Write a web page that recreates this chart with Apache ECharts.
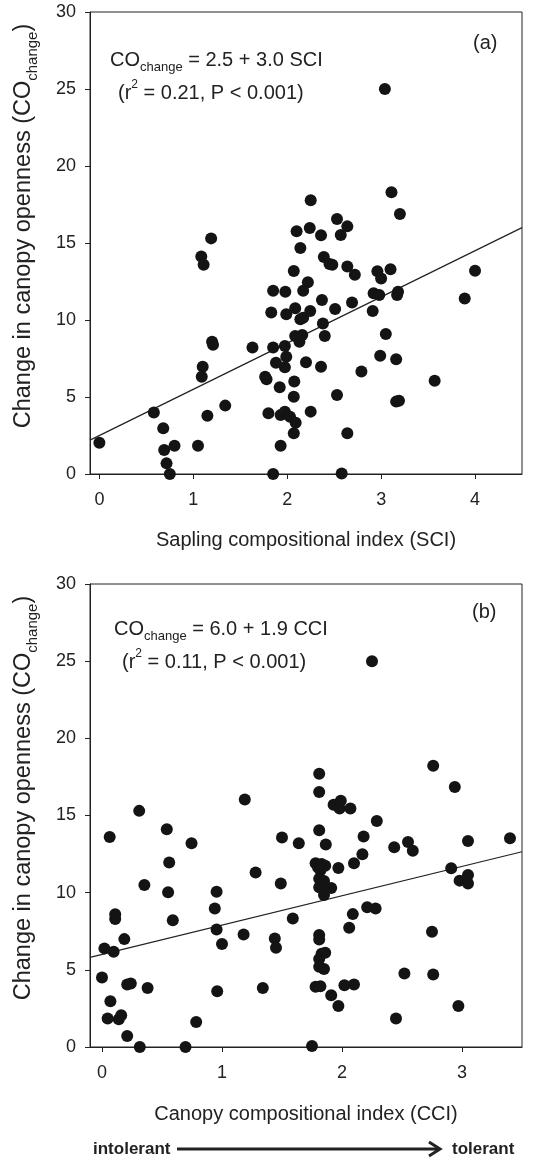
<!DOCTYPE html>
<html>
<head>
<meta charset="utf-8">
<script src="https://cdn.jsdelivr.net/npm/echarts@6/dist/echarts.min.js"></script>
<style>html,body{margin:0;padding:0;background:#fff}#c{width:560px;height:1159px}</style>
</head>
<body>
<div id="c"></div>
<script>
// Panel (a): Sapling compositional index vs change in canopy openness
const sciX = [0,0.58,0.68,0.69,0.80,0.715,0.75,1.05,1.09,1.10,1.15,1.34,1.20,1.21,1.085,1.11,1.19,1.63,1.765,1.78,
  1.85,1.83,1.85,1.88,1.92,1.80,1.93,1.975,2.03,2.09,1.93,1.85,2.07,2.07,2.075,1.975,1.99,1.975,1.99,1.98,
  2.085,2.14,2.17,2.245,2.085,2.16,2.13,2.20,2.25,2.07,2.10,2.14,2.22,2.17,2.24,2.25,2.36,2.37,2.38,2.40,
  2.36,2.39,2.45,2.48,2.51,2.53,2.53,2.57,2.58,2.64,2.64,2.72,2.69,2.64,2.79,2.91,2.92,2.98,2.96,3.0,
  3.10,2.99,3.05,3.04,3.11,3.20,3.16,3.18,3.17,3.16,3.19,3.57,3.89,4.0];
const coA = [2.03,4.0,2.97,1.56,1.84,0.69,0,1.84,6.32,6.97,3.79,4.44,8.59,8.4,14.13,13.59,15.30,8.22,6.32,6.15,
  11.9,10.48,8.22,7.23,5.63,3.94,3.83,4.05,3.72,3.33,1.84,0,2.64,5.02,6.0,6.93,7.62,8.31,10.37,11.84,
  10.76,10.05,10.15,10.58,8.96,9.03,8.59,7.25,4.05,13.18,15.76,14.68,12.45,11.9,15.97,17.77,15.50,11.3,9.78,8.96,
  6.97,14.09,13.64,13.59,10.71,5.13,16.56,15.52,0.04,16.08,13.48,12.94,11.13,2.64,6.65,10.58,11.73,11.62,13.16,12.7,
  13.3,7.68,9.09,25.0,18.29,16.88,7.45,11.84,11.62,4.7,4.76,6.06,11.4,13.2];
const fitA = [[-0.1, 2.2], [4.5, 16.0]];

// Panel (b): Canopy compositional index vs change in canopy openness
const cciX = [2.25,2.76,2.94,1.81,1.81,1.19,1.93,1.99,1.98,2.07,0.31,2.29,0.54,0.064,0.746,1.50,1.64,1.81,1.865,2.18,
  2.435,2.55,2.59,3.05,3.40,2.17,2.10,0.56,1.28,1.78,1.80,1.83,1.86,1.82,1.97,2.91,2.98,3.05,3.05,0.353,
  0.551,0.955,1.49,1.81,1.85,1.81,1.86,1.91,1.85,0.94,2.21,2.28,0.11,0.11,0.59,1.59,2.09,2.06,0.955,1.18,
  2.75,1.81,1.81,0.186,1.44,1.45,1.0,0.02,0.097,1.83,1.86,1.81,1.81,1.85,0.0,2.52,2.76,0.21,0.24,0.38,
  0.96,1.34,1.78,1.82,2.02,2.10,1.91,1.97,2.97,0.07,0.047,0.14,0.16,0.785,2.45,0.21,0.315,0.696,1.75];
const coB = [25.0,18.23,16.84,17.71,16.52,16.04,15.7,15.95,15.45,15.45,15.3,14.65,14.11,13.6,13.2,13.57,13.2,14.05,13.12,13.64,
  12.95,13.28,12.72,13.35,13.53,12.49,11.9,11.95,11.3,11.9,11.65,11.85,11.75,11.45,11.6,11.58,10.78,11.15,10.6,10.5,
  10.02,10.06,10.6,10.9,10.75,10.35,10.3,10.3,9.85,8.98,9.05,8.98,8.6,8.3,8.22,8.33,8.61,7.73,7.62,7.29,
  7.47,7.25,6.97,6.99,7.03,6.43,6.67,6.39,6.17,6.05,6.1,5.7,5.2,5.05,4.5,4.76,4.7,4.05,4.11,3.83,
  3.61,3.83,3.9,3.94,4.0,4.05,3.35,2.66,2.66,2.97,1.84,1.8,2.06,1.62,1.84,0.71,0,0,0.06];
const fitB = [[-0.1, 5.81], [3.5, 12.65]];

const ticksSCI = [0, 1, 2, 3, 4];
const ticksCCI = [0, 1, 2, 3];
const ticksCO = [0, 5, 10, 15, 20, 25, 30];

const FONT = "'Liberation Sans', Arial, Helvetica, sans-serif";
const INK = '#222';

function zip(xs, ys) { return xs.map((x, i) => [x, ys[i]]); }

function xAxisCfg(gi, min, max, ticks) {
  return {
    gridIndex: gi, type: 'value', min: min, max: max,
    axisLine: { show: true, onZero: false, lineStyle: { color: INK, width: 1 } },
    axisTick: { show: true, length: 5, customValues: ticks, lineStyle: { color: INK } },
    axisLabel: { customValues: ticks, margin: 17, fontSize: 18, color: INK, fontFamily: FONT },
    splitLine: { show: false }
  };
}
function yAxisCfg(gi) {
  return {
    gridIndex: gi, type: 'value', min: 0, max: 30,
    axisLine: { show: true, onZero: false, lineStyle: { color: INK, width: 1 } },
    axisTick: { show: true, length: 5, customValues: ticksCO, lineStyle: { color: INK } },
    axisLabel: { customValues: ticksCO, margin: 14, fontSize: 18, color: INK, fontFamily: FONT },
    splitLine: { show: false }
  };
}

function richFor(subSize, supSize, subLH, supLH) {
  return {
    sub: { fontSize: subSize, fontFamily: FONT, fill: INK, verticalAlign: 'bottom', lineHeight: subLH },
    sup: { fontSize: supSize, fontFamily: FONT, fill: INK, verticalAlign: 'top', lineHeight: supLH }
  };
}
function txt(x, y, text, opts) {
  opts = opts || {};
  const fs = opts.fontSize || 20;
  return {
    type: 'text', x: x, y: y, rotation: opts.rotation || 0, silent: true,
    style: {
      text: text, fontSize: fs, fontFamily: FONT, fontWeight: opts.bold ? 'bold' : 'normal',
      fill: INK, align: opts.align || 'left', verticalAlign: 'middle', lineHeight: opts.lh || 28,
      rich: opts.rich || richFor(13, 12, 10, 18)
    }
  };
}
const yTitleOpts = { rotation: Math.PI / 2, align: 'center', fontSize: 23.5, lh: 32, rich: richFor(15, 12, 11, 18) };

const chart = echarts.init(document.getElementById('c'), null, { renderer: 'canvas' });
chart.setOption({
  animation: false,
  backgroundColor: '#fff',
  grid: [
    { left: 90, top: 12, width: 432, height: 462, show: true, borderColor: INK, borderWidth: 1, backgroundColor: 'transparent' },
    { left: 90, top: 584, width: 432, height: 463, show: true, borderColor: INK, borderWidth: 1, backgroundColor: 'transparent' }
  ],
  xAxis: [xAxisCfg(0, -0.1, 4.5, ticksSCI), xAxisCfg(1, -0.1, 3.5, ticksCCI)],
  yAxis: [yAxisCfg(0), yAxisCfg(1)],
  series: [
    { type: 'line', xAxisIndex: 0, yAxisIndex: 0, data: fitA, symbol: 'none', clip: true,
      lineStyle: { color: INK, width: 1.2 }, z: 2 },
    { type: 'scatter', xAxisIndex: 0, yAxisIndex: 0, data: zip(sciX, coA), symbolSize: 12, clip: false,
      itemStyle: { color: '#141414', opacity: 1 }, z: 3 },
    { type: 'line', xAxisIndex: 1, yAxisIndex: 1, data: fitB, symbol: 'none', clip: true,
      lineStyle: { color: INK, width: 1.2 }, z: 2 },
    { type: 'scatter', xAxisIndex: 1, yAxisIndex: 1, data: zip(cciX, coB), symbolSize: 12, clip: false,
      itemStyle: { color: '#141414', opacity: 1 }, z: 3 }
  ],
  graphic: [
    txt(110, 60, 'CO{sub|change} = 2.5 + 3.0 SCI'),
    txt(118, 93, '(r{sup|2} = 0.21, P < 0.001)'),
    txt(473, 43, '(a)'),
    txt(114, 629, 'CO{sub|change} = 6.0 + 1.9 CCI'),
    txt(122, 662, '(r{sup|2} = 0.11, P < 0.001)'),
    txt(472, 612, '(b)'),
    txt(24, 226, 'Change in canopy openness (CO{sub|change})', yTitleOpts),
    txt(24, 798, 'Change in canopy openness (CO{sub|change})', yTitleOpts),
    txt(306, 540, 'Sapling compositional index (SCI)', { align: 'center' }),
    txt(306, 1114, 'Canopy compositional index (CCI)', { align: 'center' }),
    txt(93, 1149, 'intolerant', { bold: true, fontSize: 17 }),
    txt(452, 1149, 'tolerant', { bold: true, fontSize: 17 }),
    { type: 'line', silent: true, shape: { x1: 177, y1: 1149, x2: 439, y2: 1149 },
      style: { stroke: INK, lineWidth: 3 } },
    { type: 'polyline', silent: true, shape: { points: [[429, 1142], [440, 1149], [429, 1156]] },
      style: { stroke: INK, lineWidth: 3, fill: null, lineJoin: 'miter' } }
  ]
});
</script>
</body>
</html>
